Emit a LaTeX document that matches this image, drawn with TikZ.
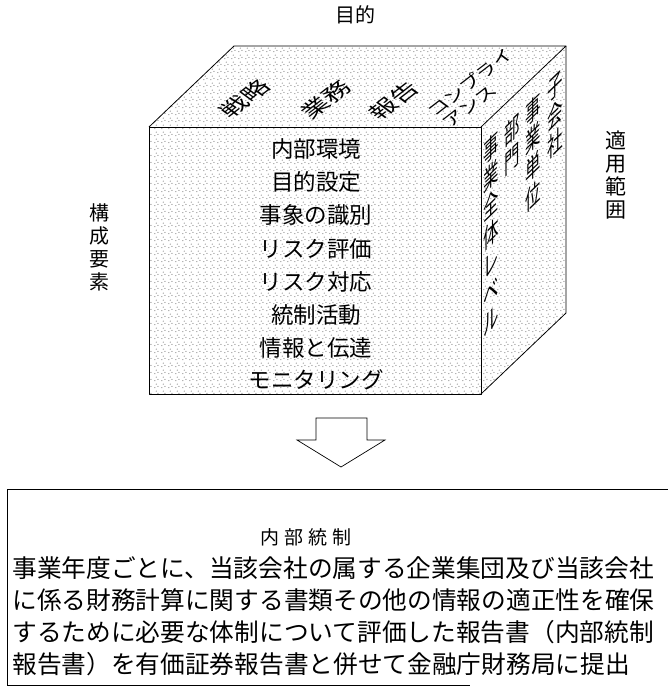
\documentclass[tikz,border=0pt]{standalone}
\usepackage{fontspec}
\setmainfont{Noto Sans CJK JP}
\usetikzlibrary{patterns.meta}
\tikzdeclarepattern{
  name=stipple,
  type=uncolored,
  bounding box={(0pt,0pt) and (7pt,7pt)},
  tile size={(7pt,7pt)},
  code={
    \fill (1pt,1.5pt) circle (0.55pt);
    \fill (4.5pt,3pt) circle (0.55pt);
    \fill (2.5pt,5.5pt) circle (0.55pt);
  }
}
\begin{document}
\begin{tikzpicture}[x=1pt,y=-1pt,line width=0.7pt,
  face/.style={pattern=stipple,pattern color=black!70},
  edge/.style={draw=black,line width=0.8pt,line join=round},
  frontlbl/.style={font=\fontsize{22.5}{24}\selectfont,inner sep=0pt},
  vlabel/.style={font=\fontsize{20}{23}\selectfont,align=center,inner sep=0pt},
  sidecol/.style={anchor=north,transform shape,cm={0.7,0.68,0,1.2,(0,0)},
    font=\fontsize{22}{24}\selectfont,align=center,inner sep=0pt},
  toplbl/.style={transform shape,cm={0.9,0.7,-0.75,0.55,(0,0)},
    font=\fontsize{23}{24}\selectfont,align=left,inner sep=0pt},
  bodyline/.style={anchor=west,font=\fontsize{24.7}{27}\selectfont,inner sep=0pt},
  hollowarrow/.style={draw=black,line width=0.7pt,fill=white,line join=miter}]
\useasboundingbox (0,0) rectangle (668,690);
\fill[white] (0,0) rectangle (668,690);
% cube corners
\coordinate (FTL) at (149,127);
\coordinate (FTR) at (481,127);
\coordinate (FBR) at (481,394);
\coordinate (FBL) at (149,394);
\coordinate (BTL) at (234,46);
\coordinate (BTR) at (566,46);
\coordinate (BBR) at (566,313);
% faces
\path[face] (FTL) -- (FTR) -- (FBR) -- (FBL) -- cycle;
\path[face] (FTL) -- (BTL) -- (BTR) -- (FTR) -- cycle;
\path[face] (FTR) -- (BTR) -- (BBR) -- (FBR) -- cycle;
\draw[edge] (FTL) -- (FTR) -- (FBR) -- (FBL) -- cycle;
\draw[edge] (FTL) -- (BTL) -- (BTR) -- (FTR);
\draw[edge] (BTR) -- (BBR) -- (FBR);
% title labels
\node[font=\fontsize{20}{22}\selectfont,inner sep=0pt] (mokuteki) at (355,15) {目的};
\node[vlabel] (kousei) at (99,247) {構\\成\\要\\素};
\node[vlabel,font=\fontsize{21}{23}\selectfont] (tekiyou) at (616,175) {適\\用\\範\\囲};
% front face
\node[frontlbl] (f1) at (316,149) {内部環境};
\node[frontlbl] (f2) at (316,182) {目的設定};
\node[frontlbl] (f3) at (316,215) {事象の識別};
\node[frontlbl] (f4) at (316,249) {リスク評価};
\node[frontlbl] (f5) at (316,282) {リスク対応};
\node[frontlbl] (f6) at (316,315) {統制活動};
\node[frontlbl] (f7) at (316,348) {情報と伝達};
\node[frontlbl] (f8) at (316,380) {モニタリング};
% right face
\begin{scope}[shift={(491,135)}]
  \node[sidecol] (s1) at (0,0) {事\\業\\全\\体\\レ\\ベ\\ル};
\end{scope}
\begin{scope}[shift={(512,118)}]
  \node[sidecol] (s2) at (0,0) {部\\門};
\end{scope}
\begin{scope}[shift={(533,97)}]
  \node[sidecol] (s3) at (0,0) {事\\業\\単\\位};
\end{scope}
\begin{scope}[shift={(555,75)}]
  \node[sidecol] (s4) at (0,0) {子\\会\\社};
\end{scope}
% top face
\begin{scope}[shift={(245,99)}]
  \node[toplbl] (t1) at (0,0) {戦略};
\end{scope}
\begin{scope}[shift={(326,100)}]
  \node[toplbl] (t2) at (0,0) {業務};
\end{scope}
\begin{scope}[shift={(394,101)}]
  \node[toplbl] (t3) at (0,0) {報告};
\end{scope}
\begin{scope}[shift={(478,88)}]
  \node[toplbl,font=\fontsize{18}{20}\selectfont] (t4) at (0,0) {コンプライ\\アンス};
\end{scope}
% arrow
\draw[hollowarrow] (316,418) -- (367,418) -- (367,440) -- (385,440) -- (341,467)
  -- (297,440) -- (316,440) -- cycle;
% bottom box
\coordinate (boxR) at (668,489);
\coordinate (boxTL) at (7,489);
\coordinate (boxBL) at (7,685);
\coordinate (boxBR) at (470,685);
\draw[line width=0.7pt] (boxR) -- (boxTL) -- (boxBL) -- (boxBR);
\node[font=\fontsize{19}{21}\selectfont,inner sep=0pt] (naibu) at (306,537)
  {内\hspace{5pt}部\hspace{5pt}統\hspace{5pt}制};
\node[bodyline] (b1) at (12,568) {事業年度ごとに、当該会社の属する企業集団及び当該会社};
\node[bodyline] (b2) at (12,600) {に係る財務計算に関する書類その他の情報の適正性を確保};
\node[bodyline] (b3) at (12,632) {するために必要な体制について評価した報告書（内部統制};
\node[bodyline] (b4) at (12,664) {報告書）を有価証券報告書と併せて金融庁財務局に提出};
\end{tikzpicture}
\end{document}
